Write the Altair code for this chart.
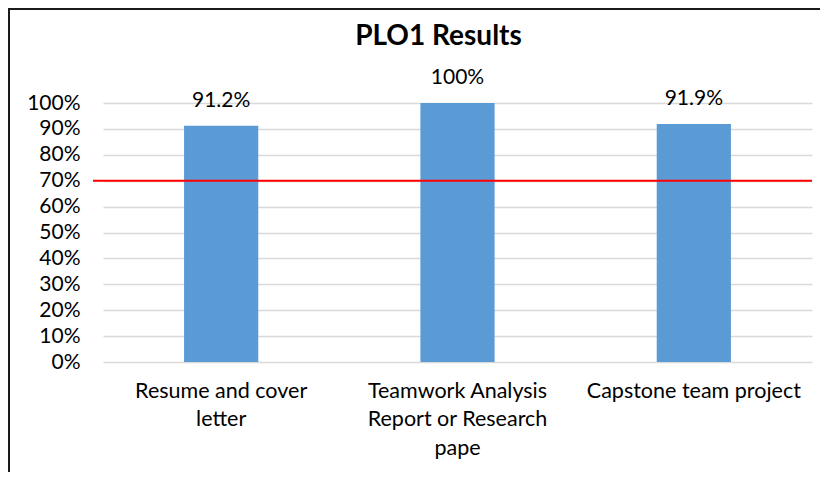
import altair as alt
import pandas as pd

# Data
categories = ["Resume and cover letter", "Teamwork Analysis Report or Research pape", "Capstone team project"]
label_lines = [["Resume and cover", "letter"], ["Teamwork Analysis", "Report or Research", "pape"], ["Capstone team project"]]
values = [0.912, 1.0, 0.919]
target = 0.70
y_ticks = [0, 0.1, 0.2, 0.3, 0.4, 0.5, 0.6, 0.7, 0.8, 0.9, 1.0]
title_text = "PLO1 Results"

df = pd.DataFrame({"category": categories, "value": values, "target": [target] * len(categories)})

W, H = 709, 259
FONT = "Lato"

# multi-line labels
expr = "''"
for c, lines in reversed(list(zip(categories, label_lines))):
    arr = "[" + ",".join("'" + l + "'" for l in lines) + "]"
    expr = f"datum.label == '{c}' ? {arr} : ({expr})"

x_axis = alt.Axis(title=None, labelAngle=0, labelFontSize=21.5, labelFont=FONT,
                  labelColor="#000000", labelLineHeight=28.5, labelPadding=18,
                  labelBaseline="top", domain=False, ticks=False, labelExpr=expr,
                  labelLimit=400, grid=False)
x_scale = alt.Scale(paddingInner=0.686, paddingOuter=0.343)
y_scale = alt.Scale(domain=[0, 1], nice=False)
y_axis = alt.Axis(title=None, values=y_ticks, format=".0%", labelFontSize=21,
                  labelFont=FONT, labelColor="#000000", labelPadding=23, tickSize=0,
                  ticks=False, domain=False, gridColor="#d9d9d9", gridWidth=1.5,
                  labelOverlap=False, tickCount=11)

x_enc = alt.X("category:N", sort=categories, scale=x_scale, axis=x_axis)

base = alt.Chart(df)
bars = base.mark_bar(color="#5B9BD5").encode(
    x=x_enc, y=alt.Y("value:Q", scale=y_scale, axis=y_axis))
labels = base.transform_calculate(
    lbl="datum.value == 1 ? '100%' : format(datum.value, '.1%')"
).mark_text(baseline="middle", dy=-25, fontSize=21, font=FONT, color="#000000").encode(
    x=x_enc, y=alt.Y("value:Q", scale=y_scale, axis=y_axis), text="lbl:N")
rule = base.transform_filter("datum.category == '%s'" % categories[0]).mark_rule(
    color="#FF0000", strokeWidth=2).encode(
    y=alt.Y("target:Q", scale=y_scale, axis=y_axis), x=alt.value(-10), x2=alt.value(W))
title = alt.Chart(pd.DataFrame({"t": [title_text]})).mark_text(
    fontSize=28, font=FONT, fontWeight="bold", color="#000000", align="center",
    baseline="alphabetic").encode(text="t:N", x=alt.value(W / 2 - 19), y=alt.value(-58))
border = alt.Chart(pd.DataFrame({"a": [0]})).mark_rect(
    filled=False, stroke="#1a1a1a", strokeWidth=2).encode(
    x=alt.value(-94), x2=alt.value(W + 60), y=alt.value(-94), y2=alt.value(H + 140))

chart = alt.layer(bars, labels, rule, title, border).properties(
    width=W, height=H,
    autosize="none",
    padding={"left": 95, "top": 95, "right": 8, "bottom": 110},
    background="white",
).configure_view(strokeWidth=0, stroke="transparent")

chart.save("out.html", embed_options={"renderer": "svg", "actions": False})
